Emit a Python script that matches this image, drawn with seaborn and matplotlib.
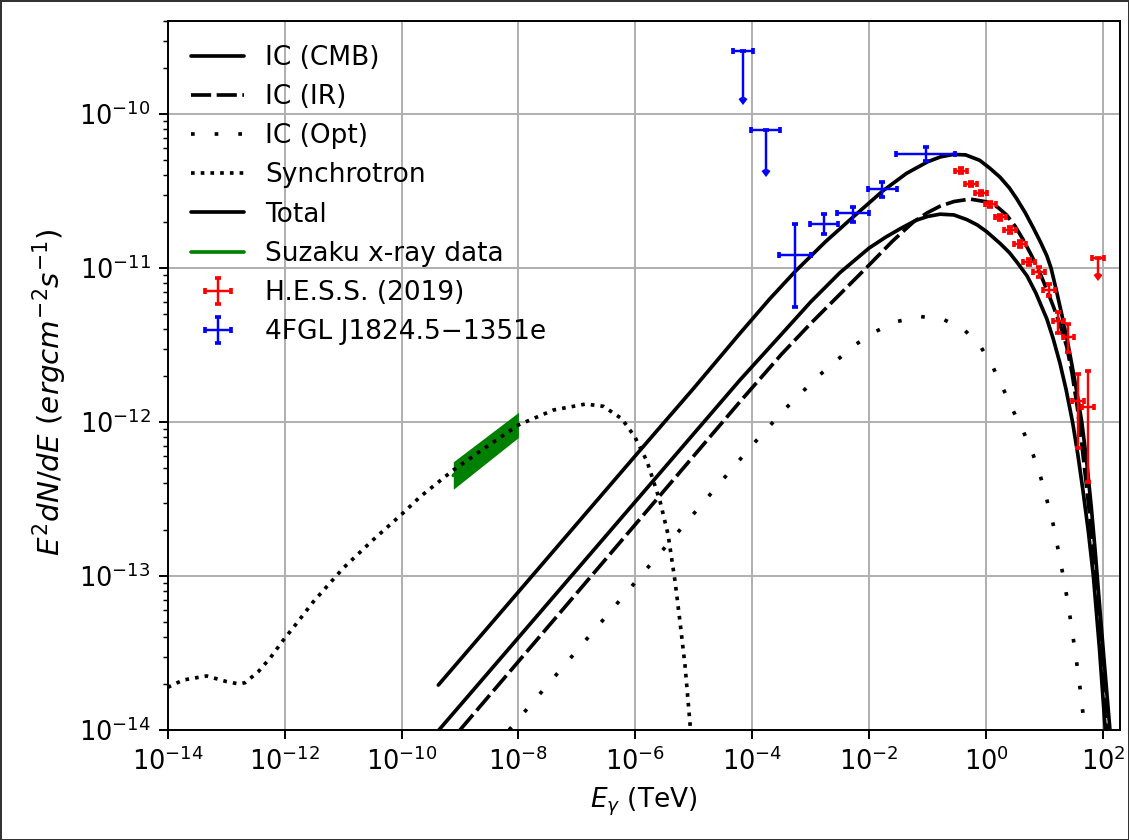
import numpy as np
import pandas as pd
import matplotlib
matplotlib.use("Agg")
import matplotlib.pyplot as plt
import seaborn as sns

# ---------------- data ----------------
# model curves: log10(E / TeV) and log10(E^2 dN/dE / erg cm^-2 s^-1)
cmb_logE = [-9.36, -8.0, -6.0, -4.21, -3.5, -3.0, -2.5, -2.0, -1.72, -1.47,
            -1.2, -1.0, -0.786, -0.55, -0.33, -0.15, 0.012, 0.24, 0.40, 0.525,
            0.70, 0.85, 1.04, 1.15, 1.266, 1.37, 1.48, 1.57, 1.66, 1.75, 1.836,
            1.94, 2.04]
cmb_logF = [-14.0, -13.40, -12.517, -11.727, -11.43, -11.22, -11.03, -10.87,
            -10.80, -10.745, -10.69, -10.665, -10.65, -10.655, -10.685, -10.72,
            -10.764, -10.84, -10.90, -10.96, -11.05, -11.16, -11.33, -11.46,
            -11.62, -11.79, -12.0, -12.21, -12.45, -12.71, -13.0, -13.47, -14.0]

ir_logE = [-9.0, -8.0, -6.0, -4.21, -3.5, -3.0, -2.5, -2.0, -1.6, -1.24, -1.0,
           -0.786, -0.55, -0.274, 0.012, 0.20, 0.354, 0.50, 0.639, 0.78, 0.924,
           1.04, 1.152, 1.27, 1.38, 1.47, 1.56, 1.64, 1.72, 1.80, 1.88, 1.98,
           2.08]
ir_logF = [-14.0, -13.555, -12.665, -11.868, -11.56, -11.36, -11.17, -10.98,
           -10.825, -10.70, -10.64, -10.598, -10.568, -10.552, -10.57, -10.605,
           -10.656, -10.73, -10.818, -10.92, -11.034, -11.14, -11.25, -11.37,
           -11.51, -11.68, -11.90, -12.15, -12.42, -12.70, -13.0, -13.48, -14.0]

opt_logE = [-8.16, -6.0, -4.009, -3.461, -2.874, -2.253, -1.911, -1.54, -1.146,
            -0.741, -0.371, -0.09, 0.12, 0.296, 0.467, 0.645, 0.804, 0.936,
            1.044, 1.146, 1.225, 1.303, 1.375, 1.44, 1.50, 1.558, 1.611, 1.658, 1.69]
opt_logF = [-14.0, -13.04, -12.154, -11.924, -11.703, -11.502, -11.416, -11.349,
            -11.314, -11.331, -11.401, -11.511, -11.645, -11.786, -11.929,
            -12.067, -12.21, -12.36, -12.51, -12.66, -12.812, -12.966, -13.119,
            -13.273, -13.427, -13.582, -13.736, -13.892, -14.0]

syn_logE = [-14.0, -13.733, -13.333, -12.99, -12.792, -12.677, -12.45, -12.25,
            -12.022, -11.793, -11.509, -11.0, -10.5, -10.0, -9.68, -9.114,
            -8.543, -8.0, -7.403, -6.85, -6.547, -6.233, -6.01, -5.80, -5.577,
            -5.44, -5.32, -5.235, -5.15, -5.055]
syn_logF = [-13.723, -13.675, -13.649, -13.686, -13.70, -13.693, -13.621,
            -13.534, -13.416, -13.307, -13.167, -12.95, -12.77, -12.60, -12.485,
            -12.312, -12.16, -12.019, -11.922, -11.883, -11.898, -11.978,
            -12.095, -12.255, -12.515, -12.73, -13.035, -13.30, -13.58, -14.0]

tot_logE = [-9.37, -8.0, -6.0, -5.0, -4.21, -3.7, -3.27, -2.75, -2.27, -1.77,
            -1.36, -1.0, -0.78, -0.56, -0.35, -0.11, 0.06, 0.24, 0.40, 0.525,
            0.67, 0.81, 0.93, 1.04, 1.112, 1.20, 1.295, 1.39, 1.47, 1.55, 1.638,
            1.72, 1.80, 1.87, 1.94, 2.02, 2.12]
tot_logF = [-13.708, -13.103, -12.219, -11.78, -11.424, -11.20, -11.024, -10.83,
            -10.667, -10.50, -10.385, -10.31, -10.278, -10.262, -10.265, -10.30,
            -10.35, -10.41, -10.48, -10.55, -10.64, -10.74, -10.83, -10.92,
            -11.0, -11.14, -11.30, -11.47, -11.63, -11.80, -12.0, -12.25,
            -12.55, -12.85, -13.18, -13.55, -14.0]

# Suzaku x-ray band (E in TeV)
suz_E = [7.69e-10, 1.0e-8]
suz_lo = [3.66e-13, 7.94e-13]
suz_hi = [5.52e-13, 1.156e-12]
suz_mid = [4.50e-13, 9.60e-13]

# H.E.S.S. (2019)
hess_E = [0.369, 0.561, 0.830, 1.19, 1.76, 2.58, 3.78, 5.37, 8.07, 12.0, 17.3,
          25.6, 37.1, 55.6]
hess_F = [4.29e-11, 3.52e-11, 3.08e-11, 2.59e-11, 2.14e-11, 1.77e-11, 1.43e-11,
          1.09e-11, 9.42e-12, 7.19e-12, 4.53e-12, 3.58e-12, 1.37e-12, 1.26e-12]
hess_Elo = [0.076, 0.116, 0.171, 0.245, 0.363, 0.531, 0.779, 1.11, 1.66, 2.47,
            3.56, 5.27, 7.64, 11.5]
hess_Ehi = [0.096, 0.145, 0.215, 0.308, 0.456, 0.668, 0.979, 1.39, 2.09, 3.11,
            4.48, 6.63, 9.61, 14.4]
hess_Flo = [1.5e-12, 1.2e-12, 1.0e-12, 0.9e-12, 0.8e-12, 0.7e-12, 0.6e-12,
            0.49e-12, 0.63e-12, 0.63e-12, 0.73e-12, 0.72e-12, 0.69e-12, 0.85e-12]
hess_Fhi = [1.5e-12, 1.2e-12, 1.0e-12, 0.9e-12, 0.8e-12, 0.7e-12, 0.6e-12,
            0.51e-12, 0.68e-12, 0.69e-12, 0.67e-12, 0.745e-12, 0.69e-12, 0.87e-12]
hess_ul_E = [81.5]
hess_ul_F = [1.16e-11]
hess_ul_Elo = [16.8]
hess_ul_Ehi = [21.1]
hess_ul_arrow = [2.5e-12]

# 4FGL J1824.5-1351e
fgl_E = [5.40e-4, 1.694e-3, 5.31e-3, 1.683e-2, 9.29e-2]
fgl_F = [1.208e-11, 1.941e-11, 2.265e-11, 3.243e-11, 5.52e-11]
fgl_Elo = [2.5e-4, 7.23e-4, 2.47e-3, 7.2e-3, 6.41e-2]
fgl_Ehi = [4.65e-4, 1.264e-3, 4.62e-3, 1.262e-2, 0.2022]
fgl_Flo = [6.46e-12, 2.78e-12, 2.65e-12, 3.66e-12, 5.4e-12]
fgl_Fhi = [7.25e-12, 2.93e-12, 2.36e-12, 3.53e-12, 5.63e-12]
fgl_ul_E = [6.97e-5, 1.70e-4]
fgl_ul_F = [2.56e-10, 7.87e-11]
fgl_ul_Elo = [2.2e-5, 7.45e-5]
fgl_ul_Ehi = [3.2e-5, 1.32e-4]
fgl_ul_arrow = [1.28e-10, 3.54e-11]

# ---------------- figure ----------------
sns.set_style("ticks")
plt.rcParams.update({
    "font.family": ["DejaVu Sans"],
    "font.size": 10.8,
    "text.color": "black",
    "axes.labelcolor": "black",
    "axes.labelsize": 10.8,
    "xtick.labelsize": 10.5,
    "ytick.labelsize": 10.5,
    "legend.fontsize": 10.8,
    "axes.edgecolor": "black",
    "axes.linewidth": 0.8,
    "xtick.color": "black",
    "ytick.color": "black",
    "xtick.major.size": 3.5,
    "ytick.major.size": 3.5,
    "ytick.minor.size": 2.0,
    "xtick.major.width": 0.8,
    "ytick.major.width": 0.8,
    "ytick.minor.width": 0.6,
    "grid.color": "#b0b0b0",
    "grid.linewidth": 0.8,
    "mathtext.fontset": "dejavusans",
})

fig = plt.figure(figsize=(1129 / 176, 840 / 176), dpi=176)
fig.patch.set_edgecolor("#333333")
fig.patch.set_linewidth(1.2)
ax = fig.add_axes([0.14854, 0.13095, 0.84350, 0.84400])
ax.set_xscale("log")
ax.set_yscale("log")


def curve(logE, logF, label, ls, zorder=2):
    df = pd.DataFrame({"E": 10.0 ** np.array(logE), "F": 10.0 ** np.array(logF)})
    sns.lineplot(data=df, x="E", y="F", ax=ax, color="black", linewidth=1.5,
                 linestyle=ls, label=label, estimator=None, sort=False,
                 zorder=zorder)


curve(cmb_logE, cmb_logF, "IC (CMB)", "-")
curve(ir_logE, ir_logF, "IC (IR)", (0, (5.5, 1.5)))
curve(opt_logE, opt_logF, "IC (Opt)", (0, (1, 5.45)))
ax.fill_between(suz_E, suz_lo, suz_hi, color="green", linewidth=0, zorder=1.5)
curve(syn_logE, syn_logF, "Synchrotron", ":")
curve(tot_logE, tot_logF, "Total", "-")
sns.lineplot(x=suz_E, y=suz_mid, ax=ax, color="green", linewidth=1.5,
             label="Suzaku x-ray data", estimator=None, sort=False, zorder=1.6)

eb_kw = dict(fmt="none", elinewidth=1.0, capsize=1.2, capthick=1.5)
ax.errorbar(hess_E, hess_F, xerr=[hess_Elo, hess_Ehi],
            yerr=[hess_Flo, hess_Fhi], ecolor="red",
            label="H.E.S.S. (2019)", **eb_kw)
ax.errorbar(hess_ul_E, hess_ul_F, xerr=[hess_ul_Elo, hess_ul_Ehi],
            yerr=[hess_ul_arrow, [0.0]], uplims=True, ecolor="red", **eb_kw)
ax.errorbar(fgl_E, fgl_F, xerr=[fgl_Elo, fgl_Ehi],
            yerr=[fgl_Flo, fgl_Fhi], ecolor="blue",
            label="4FGL J1824.5\u22121351e", **eb_kw)
ax.errorbar(fgl_ul_E, fgl_ul_F, xerr=[fgl_ul_Elo, fgl_ul_Ehi],
            yerr=[fgl_ul_arrow, [0.0, 0.0]], uplims=True, ecolor="blue", **eb_kw)

ax.set_xlim(1e-14, 10 ** 2.292)
ax.set_ylim(1e-14, 4.02e-10)
ax.set_xticks([10.0 ** k for k in range(-14, 3, 2)])
ax.xaxis.set_minor_locator(matplotlib.ticker.NullLocator())
ax.grid(True, which="major")
ax.set_axisbelow(True)

ax.set_xlabel(r"$E_\gamma$ (TeV)")
ax.set_ylabel(r"$E^2dN/dE$ $(erg cm^{-2}s^{-1})$", fontsize=12)
ax.yaxis.label.set_y(0.477)

handles, labels = ax.get_legend_handles_labels()
order = ["IC (CMB)", "IC (IR)", "IC (Opt)", "Synchrotron", "Total",
         "Suzaku x-ray data", "H.E.S.S. (2019)", "4FGL J1824.5\u22121351e"]
hmap = dict(zip(labels, handles))
ax.legend([hmap[k] for k in order], order, loc="upper left", frameon=False)

fig.savefig("out.png", dpi=176)
